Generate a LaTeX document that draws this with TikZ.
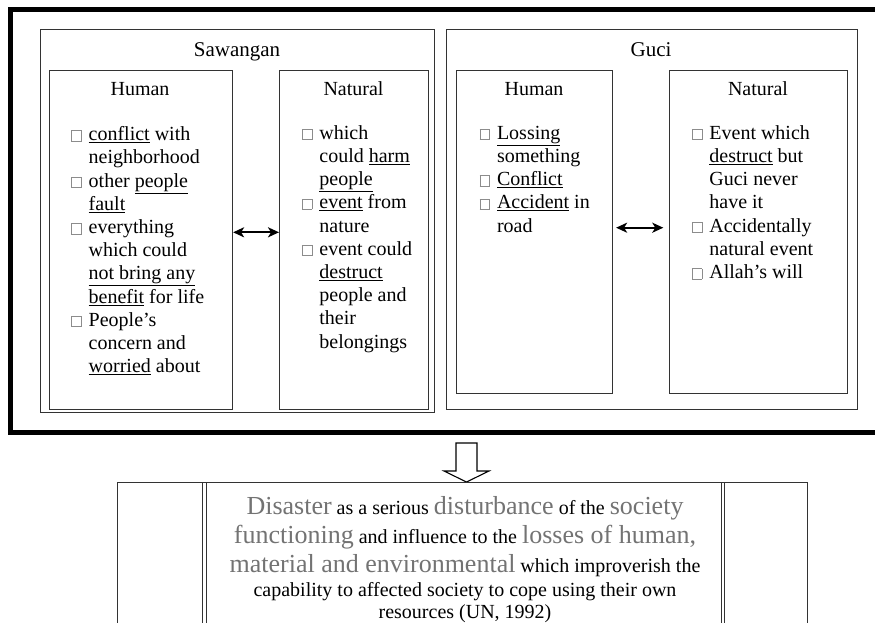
\documentclass[tikz,border=0pt]{standalone}
\usepackage{fontspec}
\setmainfont{Liberation Serif}
\usetikzlibrary{arrows.meta}
\newcommand\sqbox{\textcolor{black!45}{\setlength\fboxsep{0pt}\setlength\fboxrule{0.8pt}\fbox{\rule{0pt}{9.6pt}\rule{8.8pt}{0pt}}}}
\newcommand\bul{\makebox[17.5pt][l]{\sqbox}}
\newcommand\ind{\hspace*{17.5pt}}
\newcommand\uln[1]{\underline{#1}}
\newcommand\gr[1]{{\color{black!55}\fontsize{26}{26}\selectfont #1}}
\begin{document}
\begin{tikzpicture}[x=1pt,y=-1pt,
  frame/.style={draw=black!80, line width=1.1pt, inner sep=0, anchor=north west},
  title/.style={anchor=base, inner sep=0, font=\fontsize{21}{24}\selectfont},
  head/.style={anchor=base, inner sep=0, font=\fontsize{20}{23}\selectfont},
  body/.style={anchor=base west, inner sep=0, font=\fontsize{20}{23.2}\selectfont},
  dbl/.style={{Stealth[length=11pt,width=10pt,inset=3pt]}-{Stealth[length=11pt,width=10pt,inset=3pt]}, line width=2pt},
  def/.style={anchor=base, inner sep=0, font=\fontsize{20}{22}\selectfont}]
\useasboundingbox (0,0) rectangle (875,622);
\clip (0,0) rectangle (875,622);
% outer thick frame
\draw[line width=4.6pt] (10.5,9.2) rectangle (900,432.5);
% Sawangan
\node[frame, minimum width=394pt, minimum height=383.6pt] (sw) at (40.3,28.7) {};
\node[title] (swt) at (237,56) {Sawangan};
\node[frame, minimum width=183.5pt, minimum height=338.5pt] (sh) at (48.5,70) {};
\node[frame, minimum width=149pt, minimum height=338.5pt] (sn) at (279,70) {};
\node[head] (sht) at (140,95.7) {Human};
\node[head] (snt) at (353.5,95.7) {Natural};
\node[body] (shb) at (71,140.7) {\parbox[t]{170pt}{\raggedright
\bul\uln{conflict} with\\
\ind neighborhood\\
\bul other \uln{people}\\
\ind\uln{fault}\\
\bul everything\\
\ind which could\\
\ind\uln{not bring any}\\
\ind\uln{benefit} for life\\
\bul People’s\\
\ind concern and\\
\ind\uln{worried} about}};
\node[body] (snb) at (301.7,139.3) {\parbox[t]{140pt}{\raggedright
\bul which\\
\ind could \uln{harm}\\
\ind\uln{people}\\
\bul\uln{event} from\\
\ind nature\\
\bul event could\\
\ind\uln{destruct}\\
\ind people and\\
\ind their\\
\ind belongings}};
\draw[dbl] (sh.east |- 0,232.3) -- (sn.west |- 0,232.3);
% Guci
\node[frame, minimum width=410.4pt, minimum height=380.6pt] (gu) at (446.3,28.7) {};
\node[title] (gut) at (651,56) {Guci};
\node[frame, minimum width=156pt, minimum height=323.3pt] (gh) at (456,70) {};
\node[frame, minimum width=177.7pt, minimum height=323.3pt] (gn) at (669.3,70) {};
\node[head] (ght) at (534,95.7) {Human};
\node[head] (gnt) at (758,95.7) {Natural};
\node[body] (ghb) at (479.3,139.3) {\parbox[t]{140pt}{\raggedright
\bul\uln{Lossing}\\
\ind something\\
\bul\uln{Conflict}\\
\bul\uln{Accident} in\\
\ind road}};
\node[body] (gnb) at (691.7,139.3) {\parbox[t]{160pt}{\raggedright
\bul Event which\\
\ind\uln{destruct} but\\
\ind Guci never\\
\ind have it\\
\bul Accidentally\\
\ind natural event\\
\bul Allah’s will}};
\draw[dbl, shorten <=3pt, shorten >=6pt] (gh.east |- 0,227.7) -- (gn.west |- 0,227.7);
% block arrow
\draw[line width=1.1pt, fill=white] (456,443) -- (477,443) -- (477,471) -- (489,471) -- (466.5,482) -- (444,471) -- (456,471) -- cycle;
% bottom box
\node[frame, minimum width=690pt, minimum height=180pt] (bb) at (117.3,482.3) {};
\draw[draw=black!80, line width=1pt] (202.7,482.3) -- (202.7,640) (206.7,482.3) -- (206.7,640)
  (721,482.3) -- (721,640) (724.5,482.3) -- (724.5,640);
\node[def] (d1) at (465,514) {\gr{Disaster} as a serious \gr{disturbance} of the \gr{society}};
\node[def] (d2) at (465,543) {\gr{functioning} and influence to the \gr{losses of human,}};
\node[def] (d3) at (465,572) {\gr{material and environmental} which improverish the};
\node[def] (d4) at (465,596) {capability to affected society to cope using their own};
\node[def] (d5) at (465,618) {resources (UN, 1992)};
\end{tikzpicture}
\end{document}
